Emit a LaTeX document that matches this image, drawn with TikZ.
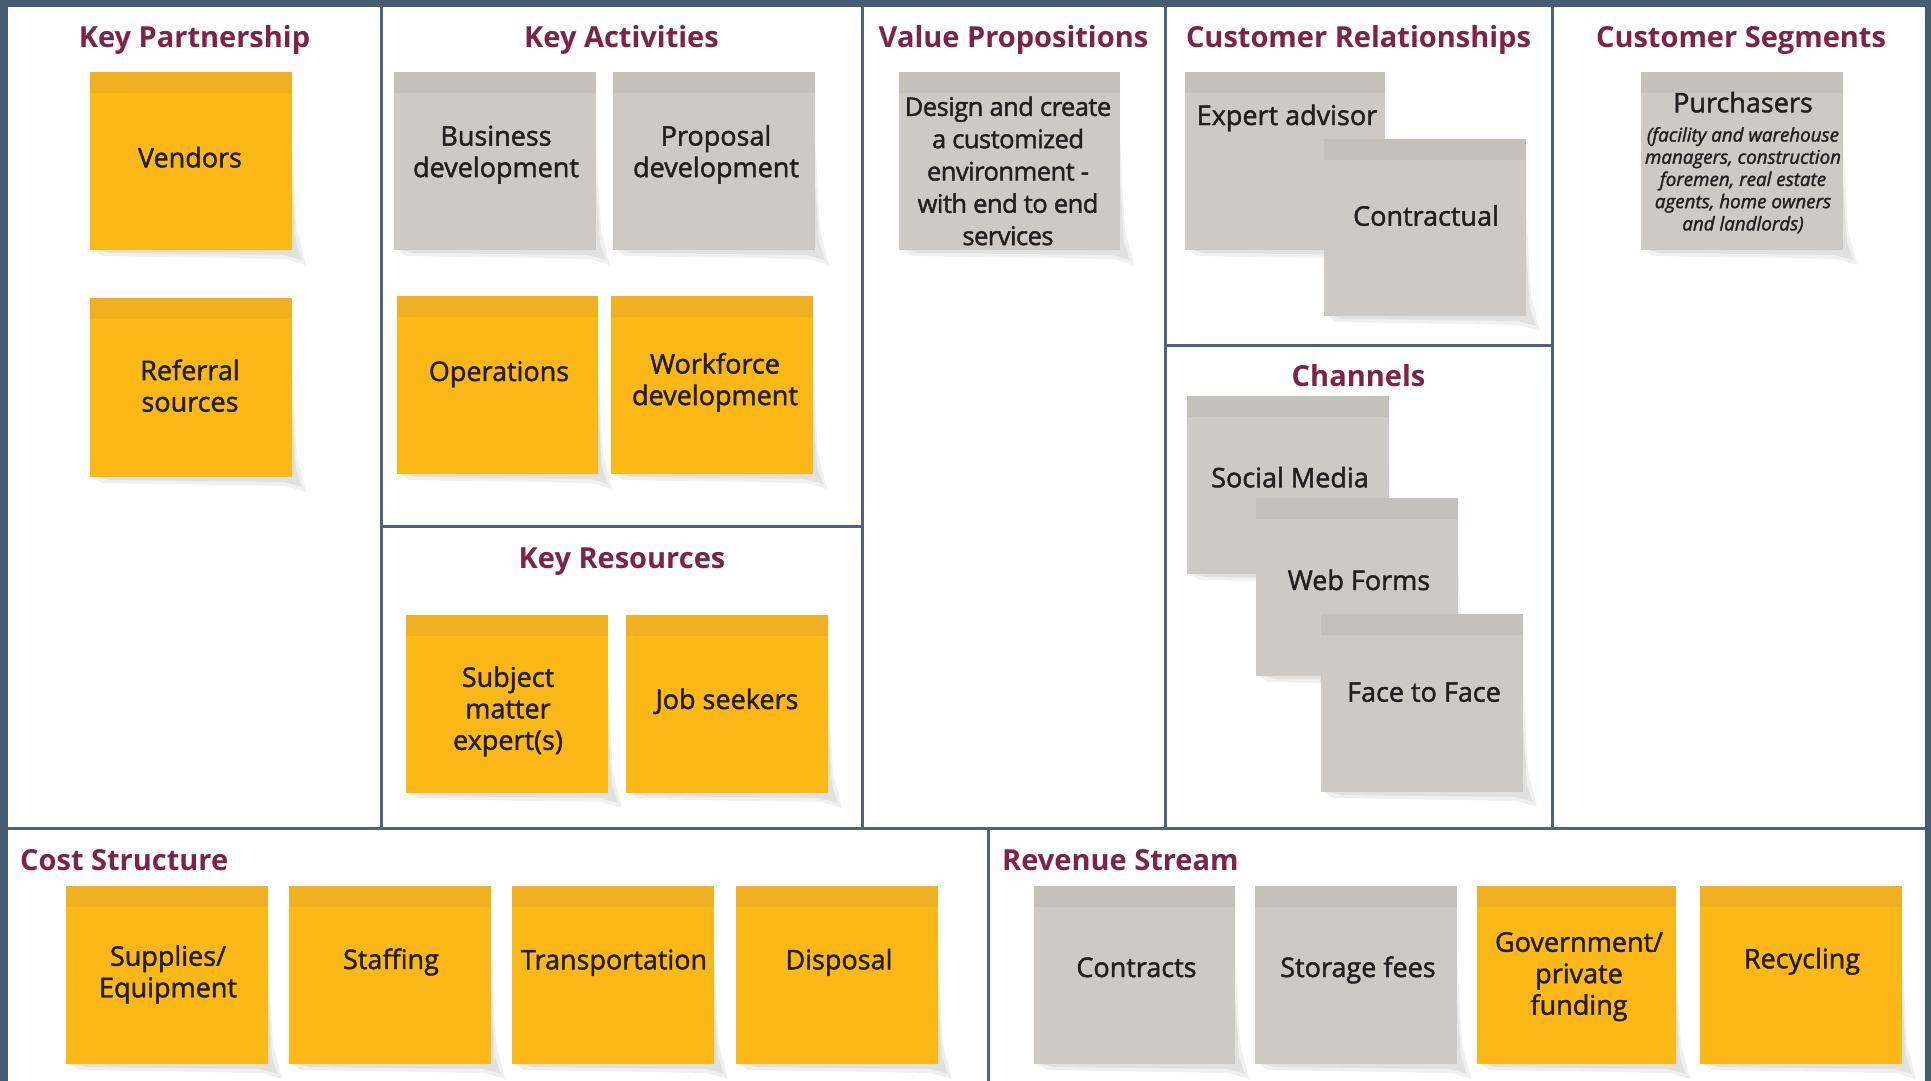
\documentclass[tikz,border=0pt]{standalone}
\usepackage{fontspec}
\setmainfont{Open Sans}
\newfontfamily\notefont{Open Sans}[FakeBold=1.7]
\newfontfamily\vpfont{Open Sans}[FakeBold=1.7, LetterSpace=-2]
\definecolor{frame}{HTML}{455C72}
\definecolor{gridline}{HTML}{4D6379}
\definecolor{ttl}{HTML}{7D2248}
\definecolor{ink}{HTML}{231F20}
\definecolor{ybody}{HTML}{FBB817}
\definecolor{yband}{HTML}{F0B020}
\definecolor{gbody}{HTML}{CDCAC5}
\definecolor{gband}{HTML}{C4C1BB}
\tikzset{
  gridln/.style={draw=gridline, line width=3pt},
  ttlnode/.style={text=ttl, font=\bfseries\fontsize{29}{34}\selectfont, inner sep=0pt, anchor=base},
  notetxt/.style={text=ink, font=\notefont\fontsize{27}{31.5}\selectfont, align=center, inner sep=0pt, anchor=center},
  vptxt/.style={notetxt, font=\vpfont\fontsize{25.5}{32.3}\selectfont},
  purtxt/.style={notetxt, font=\notefont\itshape\fontsize{18.8}{22.2}\selectfont},
  shadeA/.style={fill=black, opacity=0.06},
}
% x0 y0 x1 y1 body band
\newcommand\stickybox[6]{%
  \fill[shadeA] (#1+4,#4) -- (#3,#4) -- (#3,#2+70) -- (#3+5,#4-20) -- (#3+14,#4+15) -- (#3-6,#4+9) -- (#1+12,#4+6) -- cycle;
  \fill[shadeA] (#1+8,#4) -- (#3,#4) -- (#3,#2+110) -- (#3+4,#4-8) -- (#3+10,#4+10) -- (#3-8,#4+5) -- (#1+20,#4+3) -- cycle;
  \fill[#5] (#1,#2) rectangle (#3,#4);
  \fill[#6] (#1,#2) rectangle (#3,#2+21);
}
\begin{document}
\begin{tikzpicture}[x=1pt,y=-1pt]
\useasboundingbox (0,0) rectangle (1931,1081);
\fill[frame] (0,0) rectangle (1931,1081);
\fill[white] (8,7) rectangle (1925,1081);
% grid
\draw[gridln] (381,7) -- (381,828);
\draw[gridln] (862,7) -- (862,828);
\draw[gridln] (1165,7) -- (1165,828);
\draw[gridln] (1552,7) -- (1552,828);
\draw[gridln] (8,828) -- (1925,828);
\draw[gridln] (988,828) -- (988,1081);
\draw[gridln] (381,526.5) -- (862,526.5);
\draw[gridln] (1165,345) -- (1552,345);
% titles
\node[ttlnode] (tKP) at (194.5,48) {Key Partnership};
\node[ttlnode] (tKA) at (621.5,48) {Key Activities};
\node[ttlnode] (tVP) at (1013.5,48) {Value Propositions};
\node[ttlnode] (tCR) at (1358.5,48) {Customer Relationships};
\node[ttlnode] (tCS) at (1741,48) {Customer Segments};
\node[ttlnode] (tKR) at (622,568) {Key Resources};
\node[ttlnode] (tCH) at (1358.5,386) {Channels};
\node[ttlnode, anchor=base west] (tCost) at (20,870) {Cost Structure};
\node[ttlnode, anchor=base west] (tRev) at (1002,870) {Revenue Stream};
% Key Partnership
\stickybox{90}{72}{292}{250}{ybody}{yband}
\node[notetxt] (vendors) at (190,161) {Vendors\strut};
\stickybox{90}{298}{292}{477}{ybody}{yband}
\node[notetxt] (referral) at (190,389.5) {Referral\strut\\sources\strut};
% Key Activities
\stickybox{394}{72}{596}{250}{gbody}{gband}
\node[notetxt] (busdev) at (496,155) {Business\strut\\development\strut};
\stickybox{613}{72}{815}{250}{gbody}{gband}
\node[notetxt] (propdev) at (716,155) {Proposal\strut\\development\strut};
\stickybox{397}{296}{598}{474}{ybody}{yband}
\node[notetxt] (ops) at (499,374.7) {Operations\strut};
\stickybox{611}{296}{813}{474}{ybody}{yband}
\node[notetxt] (workforce) at (715,383) {Workforce\strut\\development\strut};
% Key Resources
\stickybox{406}{615}{608}{793}{ybody}{yband}
\node[notetxt] (sme) at (508,712) {Subject\strut\\matter\\expert(s)\strut};
\stickybox{626}{615}{828}{793}{ybody}{yband}
\node[notetxt] (jobs) at (727,702.7) {Job seekers\strut};
% Value Propositions
\stickybox{899}{72}{1120}{250}{gbody}{gband}
\node[vptxt] (design) at (1008,174) {Design and create\strut\\a customized\\environment -\\with end to end\\services\strut};
% Customer Relationships
\stickybox{1185}{72}{1385}{250}{gbody}{gband}
\node[notetxt] (expert) at (1287,118.7) {Expert advisor\strut};
\stickybox{1324}{139}{1526}{316}{gbody}{gband}
\node[notetxt] (contractual) at (1426,219.4) {Contractual\strut};
% Channels
\stickybox{1187}{396}{1389}{574}{gbody}{gband}
\node[notetxt] (social) at (1290,481) {Social Media\strut};
\stickybox{1256}{498}{1458}{676}{gbody}{gband}
\node[notetxt] (web) at (1359,583.7) {Web Forms\strut};
\stickybox{1321}{614}{1523}{792}{gbody}{gband}
\node[notetxt] (face) at (1424,695.4) {Face to Face\strut};
% Customer Segments
\stickybox{1641}{72}{1843}{250}{gbody}{gband}
\node[notetxt] (purch) at (1743,106) {Purchasers\strut};
\node[purtxt] (purchdet) at (1743,181.5) {(facility and warehouse\strut\\managers, construction\\foremen, real estate\\agents, home owners\\and landlords)\strut};
% Cost Structure
\stickybox{66}{886}{268}{1064}{ybody}{yband}
\node[notetxt] (supplies) at (168,975.2) {Supplies/\strut\\Equipment\strut};
\stickybox{289}{886}{491}{1064}{ybody}{yband}
\node[notetxt] (staffing) at (391,962.7) {Staffing\strut};
\stickybox{512}{886}{714}{1064}{ybody}{yband}
\node[notetxt] (transport) at (614,963) {Transportation\strut};
\stickybox{736}{886}{938}{1064}{ybody}{yband}
\node[notetxt] (disposal) at (839,963) {Disposal\strut};
% Revenue Stream
\stickybox{1034}{886}{1235}{1064}{gbody}{gband}
\node[notetxt] (contracts) at (1136.5,970.7) {Contracts\strut};
\stickybox{1255}{886}{1457}{1064}{gbody}{gband}
\node[notetxt] (storage) at (1358,970.7) {Storage fees\strut};
\stickybox{1477}{886}{1676}{1064}{ybody}{yband}
\node[notetxt] (gov) at (1579,976.9) {Government/\strut\\private\\funding\strut};
\stickybox{1700}{886}{1902}{1064}{ybody}{yband}
\node[notetxt] (recycling) at (1802,962) {Recycling\strut};
\end{tikzpicture}
\end{document}
